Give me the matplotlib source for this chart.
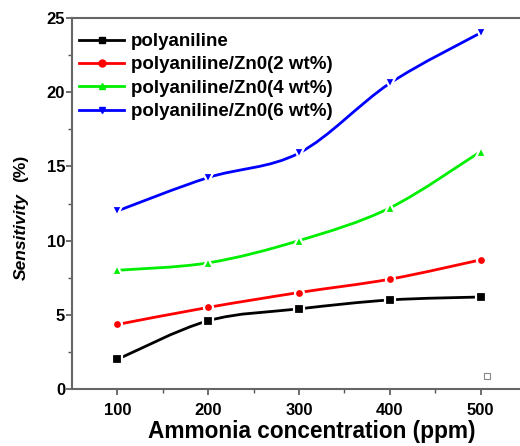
import numpy as np
import matplotlib
matplotlib.use("Agg")
import matplotlib.pyplot as plt
from matplotlib.path import Path
from matplotlib.patches import PathPatch
from matplotlib.lines import Line2D

conc = [100, 200, 300, 400, 500]
pani = [2.0, 4.6, 5.4, 6.0, 6.2]
zno2 = [4.35, 5.5, 6.5, 7.4, 8.7]
zno4 = [8.0, 8.5, 10.0, 12.2, 16.0]
zno6 = [12.0, 14.25, 15.9, 20.6, 24.0]
labels = ["polyaniline", "polyaniline/Zn0(2 wt%)", "polyaniline/Zn0(4 wt%)", "polyaniline/Zn0(6 wt%)"]
colors = ["#000000", "#ff0000", "#00ee00", "#0000ff"]
markers = ["s", "o", "^", "v"]
xticks = [100, 200, 300, 400, 500]
yticks = [0, 5, 10, 15, 20, 25]

plt.rcParams['font.family'] = ['Liberation Sans', 'DejaVu Sans']
plt.rcParams['font.weight'] = 'bold'

fig = plt.figure(figsize=(5.2, 4.46), dpi=100)
ax = fig.add_axes([72/520, 57/446, 454/520, 371/446])

def smooth_path(x, y, t=1/6):
    # Catmull-Rom style Bezier segments through the data points
    x = np.asarray(x, float); y = np.asarray(y, float)
    verts = [(x[0], y[0])]
    codes = [Path.MOVETO]
    n = len(x)
    for i in range(n - 1):
        p0 = (x[i-1], y[i-1]) if i > 0 else (x[i], y[i])
        p1 = (x[i], y[i]); p2 = (x[i+1], y[i+1])
        p3 = (x[i+2], y[i+2]) if i + 2 < n else (x[i+1], y[i+1])
        c1 = (p1[0] + (p2[0]-p0[0])*t, p1[1] + (p2[1]-p0[1])*t)
        c2 = (p2[0] - (p3[0]-p1[0])*t, p2[1] - (p3[1]-p1[1])*t)
        verts += [c1, c2, p2]
        codes += [Path.CURVE4]*3
    return Path(verts, codes)

series = [pani, zno2, zno4, zno6]
handles = []
for ys, c, m, lab in zip(series, colors, markers, labels):
    ax.add_patch(PathPatch(smooth_path(conc, ys), fill=False, edgecolor=c, lw=2.0, zorder=2))
    ax.plot(conc, ys, ls='none', marker=m, ms=6.5, color=c, mec='white', mew=1.6, zorder=3)
    handles.append(Line2D([], [], color=c, lw=2.0, marker=m, ms=5, mec=c))

ax.set_xlim(50, 550)
ax.set_ylim(0, 25)
ax.set_xticks(xticks)
ax.set_yticks(yticks)
ax.set_xticks([150, 250, 350, 450], minor=True)
ax.set_yticks([2.5, 7.5, 12.5, 17.5, 22.5], minor=True)
ax.tick_params(which='major', direction='out', length=4, width=1.2, color='#555555',
               labelsize=12, pad=6)
ax.tick_params(which='minor', direction='out', length=3, width=1.0, color='#555555')
ax.tick_params(axis='y', pad=1)
for lab in ax.get_xticklabels() + ax.get_yticklabels():
    lab.set_fontweight('bold')
for s in ax.spines.values():
    s.set_color('#666666')
    s.set_linewidth(1.5)

leg = ax.legend(handles, labels, loc='upper left', frameon=False,
                bbox_to_anchor=((79 - 72) / 454, 1 - (33 - 18) / 371),
                handlelength=2.4, handletextpad=0.35, labelspacing=0.33,
                borderaxespad=0.0, borderpad=0.0,
                prop={'weight': 'bold', 'size': 13.5})

fig.text(312/520, 1 - 438/446, "Ammonia concentration (ppm)", ha='center', va='baseline',
         fontsize=16.3, fontweight='bold')
fig.text(21/520, 1 - 237/446, "Sensitivity", rotation=90, ha='center', va='center',
         fontsize=12.5, fontweight='bold', style='italic')
fig.text(21/520, 1 - 168/446, "(%)", rotation=90, ha='center', va='center',
         fontsize=12.5, fontweight='bold')
fig.add_artist(Line2D([487/520], [1 - 376/446], marker='s', ms=5, mfc='white',
                      mec='#888888', mew=0.8, ls='none', transform=fig.transFigure))

fig.savefig("out.png", dpi=100)
